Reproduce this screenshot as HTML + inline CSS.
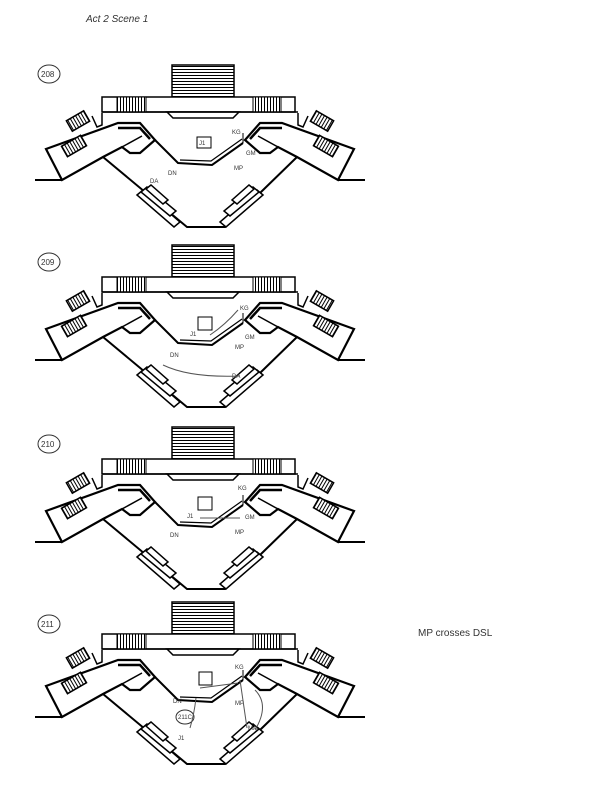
<!DOCTYPE html>
<html><head><meta charset="utf-8"><style>
html,body{margin:0;padding:0;background:#fff;}
svg{display:block;}
.h{font-family:"Liberation Sans",sans-serif;fill:#333;}
</style></head><body>
<svg width="614" height="800" viewBox="0 0 614 800" xmlns="http://www.w3.org/2000/svg">
<defs>
<pattern id="hl" width="4" height="3" patternUnits="userSpaceOnUse"><rect width="4" height="3" fill="#fff"/><line x1="0" y1="0.5" x2="4" y2="0.5" stroke="#000" stroke-width="1"/></pattern>
<pattern id="vl" width="3" height="4" patternUnits="userSpaceOnUse"><rect width="3" height="4" fill="#fff"/><line x1="0.5" y1="0" x2="0.5" y2="4" stroke="#000" stroke-width="1"/></pattern>
<g id="arm">
  <line x1="35" y1="180" x2="62" y2="180" stroke="#000" stroke-width="2"/>
  <polyline points="102,113 102,125 97,127 92,116" fill="none" stroke="#000" stroke-width="1.5"/>
  <g transform="rotate(-30 78 121)"><rect x="68" y="115" width="20" height="12" fill="url(#vl)" stroke="#000" stroke-width="1.5"/></g>
  <polygon points="46,149 118,123 140,123 155,140 140,153 130,153 122,147 103,157 62,180" fill="#fff" stroke="#000" stroke-width="2.2"/>
  <polyline points="118,128 140,128 150,139" fill="none" stroke="#000" stroke-width="2.5"/>
  <polyline points="122,147 142,136" fill="none" stroke="#000" stroke-width="1.5"/>
  <g transform="rotate(-30 74 146)"><rect x="63" y="140" width="22" height="12" fill="url(#vl)" stroke="#000" stroke-width="1.5"/></g>
</g>
<g id="stage">
  <rect x="172" y="65" width="62" height="32" fill="url(#hl)" stroke="#000" stroke-width="1.5"/>
  <rect x="102" y="97" width="193" height="15" fill="#fff" stroke="#000" stroke-width="1.5"/>
  <rect x="117" y="97" width="29" height="15" fill="url(#vl)" stroke="#000" stroke-width="1"/>
  <rect x="253" y="97" width="28" height="15" fill="url(#vl)" stroke="#000" stroke-width="1"/>
  <polygon points="167,112 173,118 233,118 239,112" fill="#fff" stroke="#000" stroke-width="1.5"/>
  <line x1="102" y1="112" x2="298" y2="112" stroke="#000" stroke-width="1.5"/>
  <polyline points="103,157 187,227 225,227 297,157" fill="none" stroke="#000" stroke-width="2"/>
  <polyline points="155,140 178,163 212,165 243,143" fill="none" stroke="#000" stroke-width="2"/>
  <polyline points="180,160 211,161 242,139" fill="none" stroke="#000" stroke-width="1.2"/>
  <line x1="243" y1="143" x2="243" y2="133" stroke="#000" stroke-width="1"/>
  <g fill="#fff" stroke="#000" stroke-width="1.5">
    <polygon points="137,195 143,190 180,222 174,227"/>
    <polygon points="141,192 147,187 176,211 170,216"/>
    <polygon points="146,189 151,185 168,200 163,204"/>
    <polygon points="263,195 257,190 220,222 226,227"/>
    <polygon points="259,192 253,187 224,211 230,216"/>
    <polygon points="254,189 249,185 232,200 237,204"/>
  </g>
  <use href="#arm"/>
  <use href="#arm" transform="translate(400 0) scale(-1 1)"/>
</g>
</defs>
<text x="86" y="22" class="h" font-size="10" font-style="italic">Act 2 Scene 1</text>
<use href="#stage"/>
<use href="#stage" transform="translate(0 180)"/>
<use href="#stage" transform="translate(0 362)"/>
<use href="#stage" transform="translate(0 537)"/>
<g class="h" font-size="8">
<ellipse cx="49" cy="74" rx="11" ry="9" fill="none" stroke="#333"/><text x="41" y="77">208</text>
<ellipse cx="49" cy="262" rx="11" ry="9" fill="none" stroke="#333"/><text x="41" y="265">209</text>
<ellipse cx="49" cy="444" rx="11" ry="9" fill="none" stroke="#333"/><text x="41" y="447">210</text>
<ellipse cx="49" cy="624" rx="11" ry="9" fill="none" stroke="#333"/><text x="41" y="627">211</text>
<text x="418" y="636" font-size="10">MP crosses DSL</text>
<g font-size="6">
<rect x="197" y="137" width="14" height="11" fill="none" stroke="#000"/><text x="199" y="145">J1</text>
<text x="232" y="134">KG</text><text x="246" y="155">GM</text><text x="234" y="170">MP</text><text x="168" y="175">DN</text><text x="150" y="183">DA</text>
<rect x="198" y="317" width="14" height="13" fill="none" stroke="#000"/>
<text x="190" y="336">J1</text><text x="240" y="310">KG</text><text x="245" y="339">GM</text><text x="235" y="349">MP</text><text x="170" y="357">DN</text><text x="232" y="378">DA</text>
<rect x="198" y="497" width="14" height="13" fill="none" stroke="#000"/>
<text x="187" y="518">J1</text><text x="238" y="490">KG</text><text x="245" y="519">GM</text><text x="235" y="534">MP</text><text x="170" y="537">DN</text>
<rect x="199" y="672" width="13" height="13" fill="none" stroke="#000"/>
<text x="235" y="669">KG</text><text x="173" y="703">DN</text><text x="235" y="705">MP</text>
<ellipse cx="185" cy="717" rx="9" ry="7" fill="none" stroke="#333"/><text x="178" y="719">211C</text>
<text x="178" y="740">J1</text><text x="248" y="730">MA</text>
</g>
</g>
<g fill="none" stroke="#555" stroke-width="1">
<path d="M210 335 Q225 325 238 310"/><path d="M163 365 Q190 378 240 376"/>
<path d="M240 518 L200 518"/><path d="M238 683 L200 688"/>
<path d="M196 698 Q194 715 190 728"/><path d="M240 680 L247 728"/><path d="M255 690 Q270 705 255 730"/>
</g>
</svg>
</body></html>
